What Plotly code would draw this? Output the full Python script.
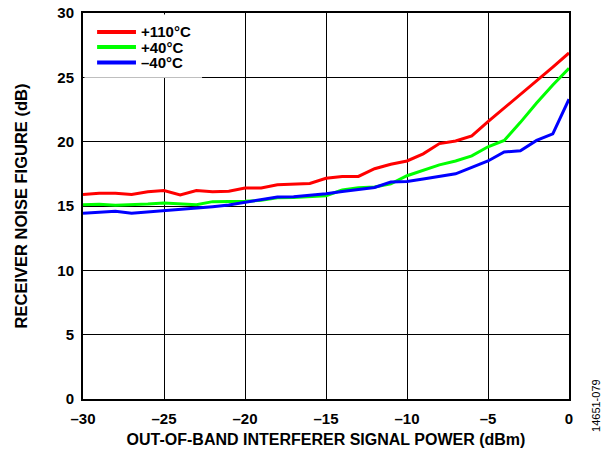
import plotly.graph_objects as go

power_dbm = list(range(-30, 1))
nf_110c = [15.9, 16.0, 16.0, 15.9, 16.1, 16.2, 15.85, 16.2, 16.1, 16.15, 16.4,
           16.4, 16.65, 16.7, 16.75, 17.15, 17.3, 17.3, 17.9, 18.25, 18.5,
           19.05, 19.85, 20.05, 20.45, 21.55, 22.6, 23.7, 24.7, 25.8, 26.9]
nf_40c = [15.1, 15.13, 15.05, 15.08, 15.15, 15.23, 15.15, 15.1, 15.34, 15.34, 15.36,
          15.44, 15.64, 15.67, 15.72, 15.8, 16.24, 16.42, 16.47, 16.73, 17.35,
          17.8, 18.2, 18.5, 18.9, 19.6, 20.1, 21.5, 23.0, 24.4, 25.7]
nf_m40c = [14.43, 14.5, 14.6, 14.43, 14.53, 14.66, 14.77, 14.82, 14.95, 15.08, 15.3,
           15.49, 15.7, 15.72, 15.82, 15.95, 16.13, 16.29, 16.44, 16.86, 16.9,
           17.1, 17.3, 17.5, 18.0, 18.5, 19.2, 19.3, 20.1, 20.6, 23.3]

x_ticks = [-30, -25, -20, -15, -10, -5, 0]
x_tick_text = ["–30", "–25", "–20", "–15", "–10", "–5", "0"]
y_ticks = [0, 5, 10, 15, 20, 25, 30]

series_names = ["+110°C", "+40°C", "–40°C"]
series_values = [nf_110c, nf_40c, nf_m40c]
series_colors = ["#FF0000", "#00FF00", "#0000FF"]

font_family = "Liberation Sans, Arial, sans-serif"

fig = go.Figure()
for name, vals, color in zip(series_names, series_values, series_colors):
    fig.add_trace(go.Scatter(x=power_dbm, y=vals, mode="lines", name=name,
                             line=dict(color=color, width=3), showlegend=False))

# manual legend (compact, like the reference)
shapes = [dict(type="rect", xref="paper", yref="paper", x0=0.003, x1=0.245,
               y0=0.832, y1=0.996, fillcolor="white", line=dict(width=0),
               layer="above")]
annotations = []
legend_rows = [0.9508, 0.9119, 0.8718]
for name, color, ry in zip(series_names, series_colors, legend_rows):
    shapes.append(dict(type="line", xref="paper", yref="paper", x0=0.029, x1=0.109,
                       y0=ry, y1=ry, line=dict(color=color, width=4), layer="above"))
    annotations.append(dict(text=name, xref="paper", yref="paper", x=0.117, y=ry,
                            xanchor="left", yanchor="middle", showarrow=False,
                            borderpad=0,
                            font=dict(family=font_family, size=15, color="black",
                                      weight="bold")))

annotations.append(dict(text="14651-079", x=1.0556, y=-0.018, xref="paper", yref="paper",
                        xanchor="center", yanchor="middle",
                        textangle=-90, showarrow=False,
                        font=dict(family=font_family, size=11, color="black")))

fig.update_layout(
    width=607, height=454,
    margin=dict(l=83, r=38, t=13, b=55, autoexpand=False),
    paper_bgcolor="white", plot_bgcolor="white",
    font=dict(family=font_family, color="black", size=13),
    showlegend=False,
    shapes=shapes,
    annotations=annotations,
)
fig.update_xaxes(range=[-30, 0], tickvals=x_ticks, ticktext=x_tick_text,
                 showgrid=True, gridcolor="black", gridwidth=1,
                 showline=True, linecolor="black", linewidth=2, mirror=True,
                 ticks="", zeroline=False, automargin=False,
                 ticklabeloverflow="allow", ticklabelstandoff=5,
                 tickfont=dict(family=font_family, size=15, weight="bold"),
                 title=dict(text="OUT-OF-BAND INTERFERER SIGNAL POWER (dBm)",
                            font=dict(family=font_family, size=16, weight="bold"),
                            standoff=8))
fig.update_yaxes(range=[0, 30], tickvals=y_ticks,
                 showgrid=True, gridcolor="black", gridwidth=1,
                 showline=True, linecolor="black", linewidth=2, mirror=True,
                 ticks="", zeroline=False, automargin=False,
                 ticklabeloverflow="allow", ticklabelstandoff=4,
                 tickfont=dict(family=font_family, size=15, weight="bold"),
                 title=dict(text="RECEIVER NOISE FIGURE (dB)",
                            font=dict(family=font_family, size=16.5, weight="bold"),
                            standoff=26))

fig.write_html("out.html",
               config={"displayModeBar": False},
               post_script="document.body.style.margin='0';document.body.style.overflow='hidden';")
